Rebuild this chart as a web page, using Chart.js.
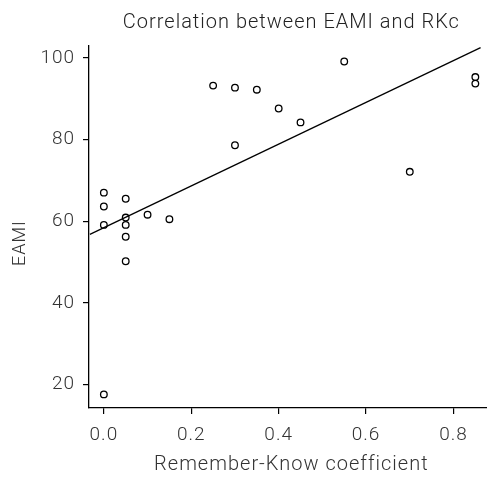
<!DOCTYPE html>
<html>
<head>
<meta charset="utf-8">
<script src="https://cdn.jsdelivr.net/npm/chart.js@4/dist/chart.umd.min.js"></script>
<style>
html,body{margin:0;padding:0;background:#fff;overflow:hidden;}
canvas{display:block;}
</style>
</head>
<body>
<canvas id="c" width="499" height="477"></canvas>
<script>
// Data
const rkCoefficient = [0, 0, 0, 0, 0.05, 0.05, 0.05, 0.05, 0.05, 0.10, 0.15, 0.25, 0.30, 0.30, 0.35, 0.40, 0.45, 0.55, 0.70, 0.85, 0.85];
const eamiValues   = [67.0, 63.6, 59.1, 17.6, 65.5, 60.9, 59.1, 56.2, 50.2, 61.6, 60.5, 93.2, 92.7, 78.6, 92.2, 87.6, 84.2, 99.1, 72.1, 95.3, 93.7];
// Regression line end points (as drawn)
const fitX = [-0.032, 0.862];
const fitY = [56.8, 102.5];
// Tick labels
const xTickValues = [0.0, 0.2, 0.4, 0.6, 0.8];
const yTickValues = [20, 40, 60, 80, 100];

const FONT = 'Roboto, "Liberation Sans", sans-serif';
const TXT = '#333333';

const points = rkCoefficient.map((x, i) => ({x: x, y: eamiValues[i]}));
const fitLine = fitX.map((x, i) => ({x: x, y: fitY[i]}));

const spacingPlugin = {
  id: 'spacing',
  beforeDraw(chart) { chart.ctx.letterSpacing = '1px'; }
};

new Chart(document.getElementById('c'), {
  type: 'scatter',
  plugins: [spacingPlugin],
  data: {
    datasets: [
      {
        data: points,
        pointStyle: 'circle',
        pointRadius: 3.3,
        pointBorderWidth: 1.3,
        pointBorderColor: '#000',
        pointBackgroundColor: 'rgba(255,255,255,0)',
        showLine: false
      },
      {
        data: fitLine,
        showLine: true,
        borderColor: '#000',
        borderWidth: 1.3,
        pointRadius: 0,
        fill: false
      }
    ]
  },
  options: {
    responsive: false,
    animation: false,
    events: [],
    layout: { padding: { left: 10, right: 0, top: 0, bottom: 0 } },
    plugins: {
      legend: { display: false },
      tooltip: { enabled: false },
      title: {
        display: true,
        fullSize: false,
        text: 'Correlation between EAMI and RKc',
        color: '#222',
        font: { family: FONT, size: 20, weight: 300 },
        padding: { top: 11, bottom: 11 }
      }
    },
    scales: {
      x: {
        type: 'linear',
        min: -0.034,
        max: 0.892,
        afterBuildTicks: s => { s.ticks = xTickValues.map(v => ({value: v})); },
        afterFit: s => { s.height = 69; },
        ticks: {
          color: TXT,
          font: { family: FONT, size: 19, weight: 300 },
          padding: 10,
          maxRotation: 0,
          callback: v => Number(v).toFixed(1)
        },
        grid: { display: true, drawOnChartArea: false, drawTicks: true, tickLength: 6, color: '#000', lineWidth: 1.2 },
        border: { display: true, color: '#000', width: 1.3 },
        title: {
          display: true,
          text: 'Remember-Know coefficient',
          color: TXT,
          font: { family: FONT, size: 20, weight: 300 },
          padding: 0
        }
      },
      y: {
        type: 'linear',
        min: 14.27,
        max: 102.9,
        afterBuildTicks: s => { s.ticks = yTickValues.map(v => ({value: v})); },
        afterFit: s => { s.width = 79; },
        ticks: {
          color: TXT,
          font: { family: FONT, size: 19, weight: 300 },
          padding: 8,
          callback: v => String(v)
        },
        grid: { display: true, drawOnChartArea: false, drawTicks: true, tickLength: 6, color: '#000', lineWidth: 1.2 },
        border: { display: true, color: '#000', width: 1.3 },
        title: {
          display: true,
          text: 'EAMI      ',
          color: TXT,
          font: { family: FONT, size: 18, weight: 300 },
          padding: 0
        }
      }
    }
  }
});
</script>
</body>
</html>
